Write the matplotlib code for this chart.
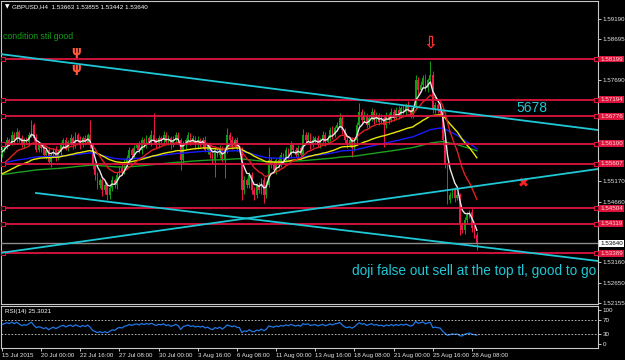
import numpy as np
import matplotlib
matplotlib.use("Agg")
import matplotlib.pyplot as plt
import matplotlib.transforms as mtransforms
from matplotlib import font_manager

# ---------------- data ----------------
# closes in pips above 1.5000 (H4 bars from 15 Jul 2015 08:00)
close_pips = [
    595, 607, 619, 612, 632, 619, 639, 624, 607, 619, 614, 632, 656,
    624, 595, 607, 599, 582, 595, 565, 582, 595, 575, 590, 607, 619,
    599, 614, 624, 607, 632, 619, 607, 624, 614, 632, 607, 557, 533,
    508, 520, 495, 508, 483, 500, 520, 508, 533, 550, 540, 565, 575,
    595, 582, 599, 607, 595, 619, 607, 624, 614, 632, 619, 607, 624,
    619, 632, 614, 624, 607, 619, 632, 619, 570, 607, 619, 632, 614,
    624, 607, 619, 607, 619, 595, 607, 582, 570, 595, 582, 599, 570,
    595, 632, 619, 607, 619, 599, 595, 495, 520, 508, 533, 495, 483,
    508, 495, 520, 483, 508, 570, 557, 545, 570, 557, 582, 570, 595,
    582, 607, 595, 582, 599, 582, 632, 619, 632, 607, 619, 624, 607,
    619, 632, 614, 624, 644, 632, 649, 656, 674, 644, 619, 607, 619,
    599, 619, 656, 689, 669, 681, 656, 674, 689, 669, 681, 664, 674,
    656, 681, 669, 689, 674, 694, 681, 699, 689, 706, 694, 681, 699,
    768, 743, 756, 773, 748, 768, 780, 694, 706, 694, 689, 619, 557,
    471, 483, 495, 476, 483, 409, 396, 421, 433, 441, 401, 384, 364,
]
first_open_pips = 585
upper_wick = [
    6, 4, 8, 5, 10, 6, 9, 4, 7, 5, 8, 6, 12,
    5, 9, 6, 4, 7, 5, 8, 6, 4, 9, 5, 7, 6,
    8, 5, 10, 6, 7, 4, 9, 6, 8, 5, 37, 6, 5,
    8, 6, 5, 9, 7, 6, 10, 5, 8, 6, 9, 7, 6,
    8, 5, 9, 6, 10, 7, 5, 8, 6, 12, 54, 6, 8,
    5, 9, 6, 7, 5, 10, 8, 6, 5, 9, 6, 7, 5,
    8, 6, 9, 5, 7, 10, 6, 8, 5, 9, 6, 7, 5,
    8, 17, 6, 9, 5, 7, 6, 8, 10, 5, 7, 6, 9,
    5, 8, 6, 7, 10, 32, 6, 8, 5, 9, 7, 6, 8,
    5, 10, 6, 7, 9, 5, 14, 6, 8, 5, 9, 6, 7,
    5, 10, 6, 8, 7, 9, 6, 8, 12, 7, 5, 9, 6,
    8, 5, 7, 22, 6, 9, 5, 8, 10, 6, 7, 5, 9,
    6, 8, 5, 10, 7, 6, 9, 5, 8, 6, 10, 7, 5,
    12, 8, 10, 7, 9, 6, 35, 10, 8, 6, 7, 5, 6,
    5, 8, 6, 9, 7, 5, 6, 8, 7, 6, 9, 5, 7,
]
lower_wick = [
    7, 5, 9, 6, 4, 8, 5, 10, 6, 7, 5, 9, 6,
    8, 6, 5, 9, 7, 10, 6, 12, 5, 8, 6, 9, 7,
    5, 8, 6, 9, 7, 5, 10, 6, 8, 5, 7, 9, 12,
    10, 8, 14, 9, 12, 10, 8, 7, 9, 6, 8, 5, 7,
    9, 6, 8, 5, 7, 10, 6, 8, 5, 9, 6, 7, 8,
    6, 9, 5, 7, 10, 6, 8, 5, 25, 7, 9, 6, 8,
    5, 7, 9, 6, 8, 5, 10, 7, 9, 42, 6, 8, 5,
    45, 7, 6, 9, 5, 8, 6, 24, 10, 8, 7, 9, 12,
    8, 6, 9, 20, 7, 5, 8, 6, 9, 7, 5, 8, 6,
    9, 6, 8, 5, 7, 10, 6, 8, 5, 9, 6, 7, 5,
    8, 6, 9, 5, 7, 10, 6, 8, 5, 9, 6, 7, 5,
    22, 8, 6, 7, 9, 5, 8, 6, 7, 9, 5, 8, 6,
    54, 7, 9, 5, 8, 6, 10, 7, 5, 9, 6, 8, 7,
    6, 9, 5, 8, 7, 10, 6, 8, 9, 7, 10, 12, 8,
    9, 7, 8, 10, 6, 24, 8, 9, 7, 6, 10, 8, 17,
]

# moving averages: (period, seed price in pips at first bar, colour)
ma_specs = [
    (200, 533, "#1fa01f"),
    (100, 562, "#1a1aff"),
    (50, 533, "#e8e800"),
    (16, 550, "#e02020"),
    (5, 587, "#e8e8e8"),
]
rsi_seed_gain, rsi_seed_loss = 8.0, 6.0

# horizontal levels
red_levels = [1.58199, 1.57194, 1.56776, 1.56100, 1.55607, 1.54504, 1.54119, 1.53389]
current_price = 1.53640
price_ticks = [1.59190, 1.58695, 1.57690, 1.55170, 1.54660, 1.53160, 1.52650, 1.52155]

# trendlines: (bar0, price0, bar1, price1)
trendlines = [
    (-0.8, 1.58323, 243.5, 1.56441),
    (13.9, 1.54880, 243.5, 1.53196),
    (-0.8, 1.53394, 243.5, 1.55475),
]

time_labels = ["15 Jul 2015", "20 Jul 00:00", "22 Jul 16:00", "27 Jul 08:00", "30 Jul 00:00",
               "3 Aug 16:00", "6 Aug 08:00", "11 Aug 00:00", "13 Aug 16:00", "18 Aug 08:00",
               "21 Aug 00:00", "25 Aug 16:00", "28 Aug 08:00"]
time_label_bars = [0, 16, 32, 48, 64, 80, 96, 112, 128, 144, 160, 176, 192]

# ---------------- derived ----------------
close = 1.5 + np.array(close_pips) / 1e4
opens = np.concatenate([[1.5 + first_open_pips / 1e4], close[:-1]])
high = np.maximum(opens, close) + np.array(upper_wick) / 1e4
low = np.minimum(opens, close) - np.array(lower_wick) / 1e4
n = len(close)
idx = np.arange(n)

def ema(values, period, seed):
    a = 2.0 / (period + 1)
    out = np.empty(len(values))
    prev = seed
    for k, v in enumerate(values):
        prev = prev + a * (v - prev)
        out[k] = prev
    return out

def rsi(values, period, g0, l0):
    ag, al = g0 / 1e4, l0 / 1e4
    out = np.empty(len(values))
    prev = values[0]
    for k, v in enumerate(values):
        ch = v - prev
        prev = v
        ag = (ag * (period - 1) + max(ch, 0)) / period
        al = (al * (period - 1) + max(-ch, 0)) / period
        out[k] = 100 - 100 / (1 + ag / al) if al > 0 else 100
    return out

# small-label font: a narrow face if installed
names = {f.name for f in font_manager.fontManager.ttflist}
if "Liberation Sans Narrow" in names:
    small_font, fs_small, fs_time = "Liberation Sans Narrow", 5.4, 5.2
else:
    small_font, fs_small, fs_time = "Liberation Sans", 4.5, 4.4
lab_font = "Liberation Sans"

# ---------------- figure ----------------
W, H = 625, 360
fig = plt.figure(figsize=(W / 100, H / 100), dpi=100, facecolor="black")
L, R = 1 / W, 598 / W
ax = fig.add_axes([L, 1 - 304 / H, R - L, 303 / H], facecolor="black")
axr = fig.add_axes([L, 1 - 348 / H, R - L, 42 / H], facecolor="black", sharex=ax)

frame_col = "#c8c8c8"
for a in (ax, axr):
    for s in a.spines.values():
        s.set_color(frame_col)
        s.set_linewidth(0.8)

ax.set_xlim(-0.41, 243.5)
ax.set_ylim(1.52131, 1.59636)

bull, bear = "#119e11", "#f0174a"
cols = [bull if c >= o else bear for o, c in zip(opens, close)]
ax.vlines(idx, low, high, colors=cols, linewidth=0.7, zorder=2)
body_h = np.maximum(np.abs(close - opens), 0.00004)
ax.bar(idx, body_h, bottom=np.minimum(opens, close), width=0.7, color=cols, linewidth=0, zorder=3)

for period, seed, col in ma_specs:
    ax.plot(idx, ema(close, period, 1.5 + seed / 1e4), color=col, linewidth=1.0, zorder=4)

# horizontal lines
red = "#dc143c"
for lv in red_levels:
    ax.axhline(lv, color=red, linewidth=1.3, zorder=5)
    ax.plot([0.4, 242.6], [lv, lv], linestyle="none", marker="s", markersize=2.8,
            markerfacecolor="black", markeredgecolor=red, markeredgewidth=0.8, zorder=6)
ax.axhline(current_price, color="#8c8c8c", linewidth=1.0, zorder=5)

for b0, p0, b1, p1 in trendlines:
    ax.plot([b0, b1], [p0, p1], color="#1ec8d6", linewidth=1.3, zorder=6, clip_on=True)

# price axis
ax.yaxis.tick_right()
ax.set_yticks(price_ticks)
ax.set_yticklabels([f"{t:.5f}" for t in price_ticks], family=small_font)
ax.tick_params(axis="y", colors="#e6e6e6", labelsize=fs_small, length=2, pad=1.2, width=0.6)
ax.tick_params(axis="x", bottom=False, labelbottom=False)
ytrans = mtransforms.blended_transform_factory(ax.transAxes, ax.transData)
for lv in red_levels:
    ax.text(1.004, lv, f"{lv:.5f}", transform=ytrans, fontsize=fs_small, color="#ffd6dc",
            va="center", ha="left", zorder=10, family=small_font,
            bbox=dict(boxstyle="square,pad=0.15", facecolor=red, edgecolor="none"), clip_on=False)
ax.text(1.004, current_price, f"{current_price:.5f}", transform=ytrans, fontsize=fs_small,
        color="black", va="center", ha="left", zorder=10, family=small_font,
        bbox=dict(boxstyle="square,pad=0.15", facecolor="white", edgecolor="none"), clip_on=False)

# texts / objects
ax.text(0.006, 0.988, "\u25bc", transform=ax.transAxes, color="white", fontsize=4.2,
        va="top", ha="left")
ax.text(0.018, 0.99, "GBPUSD,H4  1.53663 1.53855 1.53442 1.53640", transform=ax.transAxes,
        color="white", fontsize=fs_small, va="top", ha="left", family=small_font)
ax.text(0.4, 1.58769, "condition stil good", color="#10a010", fontsize=6.3, va="center",
        ha="left", family=lab_font)
ax.text(210.0, 1.56986, "5678", color="#1ec8d6", fontsize=10, va="center", ha="left",
        family=lab_font)
ax.text(143.0, 1.52948, "doji false out sell at the top tl, good to go", color="#1ec8d6",
        fontsize=9.8, va="center", ha="left", family=lab_font)
ax.text(213.0, 1.55128, "\u2716", color="#ff2020", fontsize=9.5, va="center", ha="center")
ax.text(175.0, 1.5862, "\u21e9", color="#ff3030", fontsize=12, va="center", ha="center",
        fontweight="bold")
ax.text(30.2, 1.58397, "\u03c8", color="#ff5a3c", fontsize=9, va="center", ha="center",
        fontweight="bold")
ax.text(30.2, 1.57976, "\u03c8", color="#ff5a3c", fontsize=9, va="center", ha="center",
        fontweight="bold")

# RSI panel
rsi_vals = rsi(close, 14, rsi_seed_gain, rsi_seed_loss)
axr.set_ylim(-11.8, 111.8)
axr.plot(idx, rsi_vals, color="#1e78e6", linewidth=0.9)
for lvl in (70, 30):
    axr.axhline(lvl, color="#d0d0d0", linewidth=0.6, linestyle=(0, (2, 2)))
axr.yaxis.tick_right()
axr.set_yticks([100, 70, 30, 0])
axr.set_yticklabels(["100", "70", "30", "0"], family=small_font)
axr.tick_params(axis="y", colors="#e6e6e6", labelsize=fs_small, length=2, pad=1.2, width=0.6)
axr.text(0.006, 0.93, "RSI(14) 25.3021", transform=axr.transAxes, color="white",
         fontsize=fs_small, va="top", ha="left", family=small_font)

axr.set_xticks(time_label_bars)
axr.set_xticklabels(time_labels, family=small_font)
axr.tick_params(axis="x", colors="#e6e6e6", labelsize=fs_time, length=2, pad=1.5, width=0.6)
for lab in axr.get_xticklabels():
    lab.set_horizontalalignment("left")

fig.savefig("out.png", dpi=100, facecolor="black")
